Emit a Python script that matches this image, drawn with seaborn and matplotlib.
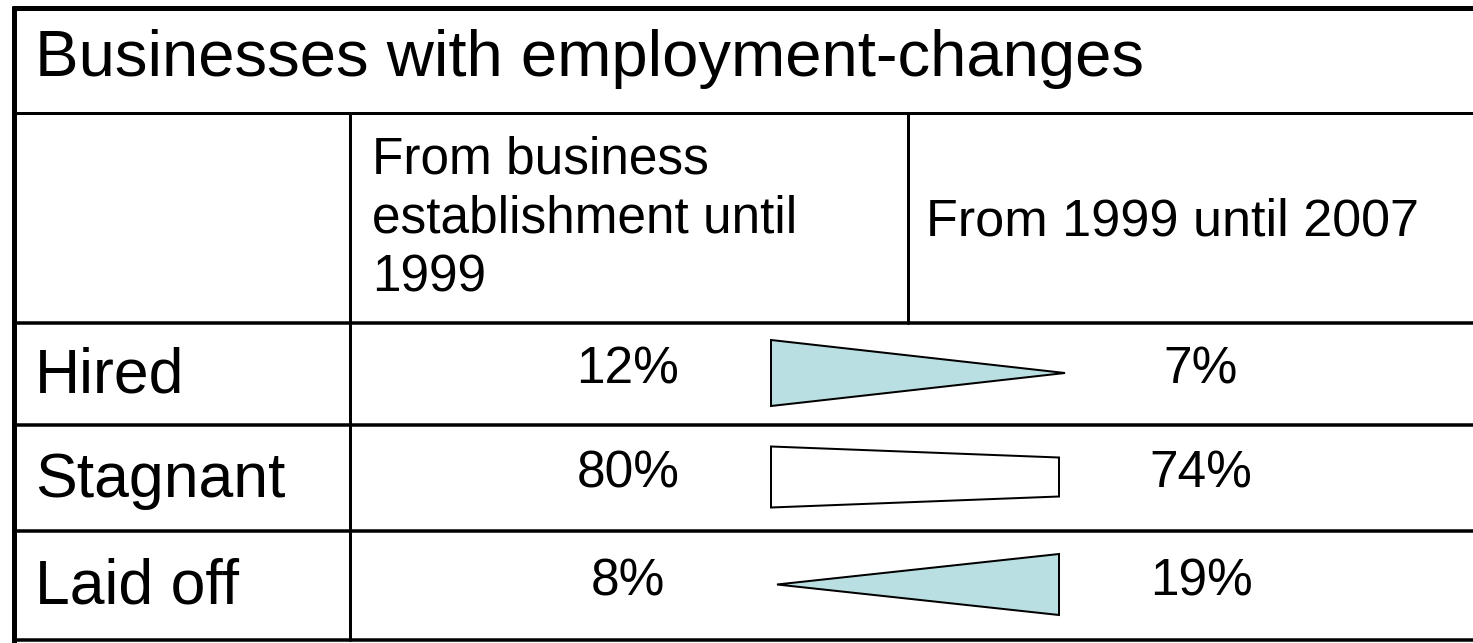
import matplotlib
matplotlib.use("Agg")
import matplotlib.pyplot as plt
from matplotlib.patches import Polygon
import seaborn as sns

# ---- data ----
title = "Businesses with employment-changes"
period_labels = ["From business\nestablishment until\n1999", "From 1999 until 2007"]
categories = ["Hired", "Stagnant", "Laid off"]
values_period1 = ["12%", "80%", "8%"]
values_period2 = ["7%", "74%", "19%"]

# ---- style / layout (pixel coordinates) ----
sns.set_theme(style="white")
plt.rcParams["font.family"] = ["Liberation Sans", "DejaVu Sans"]

W, H = 1473, 643
fig = plt.figure(figsize=(W / 100, H / 100), dpi=100)
ax = fig.add_axes([0, 0, 1, 1])
ax.set_xlim(0, W)
ax.set_ylim(H, 0)
ax.axis("off")

px = 0.72  # points per pixel at 100 dpi

left_x = 13.5
col1_x = 350
col2_x = 908
top_y = 7.5
title_bottom = 113
header_bottom = 323
row_bounds = [323, 425, 531, 640]

# outer borders
ax.plot([left_x - 2, W], [top_y, top_y], color="black", lw=5 * px, solid_capstyle="butt")
ax.plot([left_x, left_x], [top_y - 2, H], color="black", lw=5 * px, solid_capstyle="butt")
# inner lines
ax.plot([left_x, W], [title_bottom, title_bottom], color="black", lw=3 * px)
ax.plot([col1_x, col1_x], [title_bottom, row_bounds[-1]], color="black", lw=3 * px)
ax.plot([col2_x, col2_x], [title_bottom, header_bottom], color="black", lw=3 * px)
for yb in row_bounds:
    ax.plot([left_x, W], [yb, yb], color="black", lw=3.5 * px)

# title
ax.text(35, 59, title, fontsize=47, va="center", ha="left", color="black")

# column headers
header_cy = (title_bottom + header_bottom) / 2
ax.text(372, header_cy + 1, period_labels[0], fontsize=37, va="center", ha="left",
        linespacing=1.27, color="black")
ax.text(926, header_cy + 4, period_labels[1], fontsize=37.5, va="center", ha="left",
        color="black")

# rows
fill_blue = "#BADFE2"
shape_x0, shape_x1 = 771, 1059
shape_heights = [(66, 0), (61, 39), (0, 61)]
shape_tip_extend = [6, 0, 6]
shape_fill = [fill_blue, "white", fill_blue]

for i, cat in enumerate(categories):
    y0, y1 = row_bounds[i], row_bounds[i + 1]
    cy = (y0 + y1) / 2
    ax.text(35, cy + 2, cat, fontsize=45, va="center", ha="left", color="black")
    ax.text(628, cy - 4, values_period1[i], fontsize=37, va="center", ha="center", color="black")
    ax.text(1201, cy - 4, values_period2[i], fontsize=37, va="center", ha="center", color="black")

    hl, hr = shape_heights[i]
    xl = shape_x0 + (shape_tip_extend[i] if hl == 0 else 0)
    xr = shape_x1 + (shape_tip_extend[i] if hr == 0 else 0)
    scy = cy - 1
    pts = [(xl, scy - hl / 2), (xr, scy - hr / 2), (xr, scy + hr / 2), (xl, scy + hl / 2)]
    ax.add_patch(Polygon(pts, closed=True, facecolor=shape_fill[i], edgecolor="black",
                         lw=2 * px, joinstyle="miter"))

fig.savefig("out.png", dpi=100)
